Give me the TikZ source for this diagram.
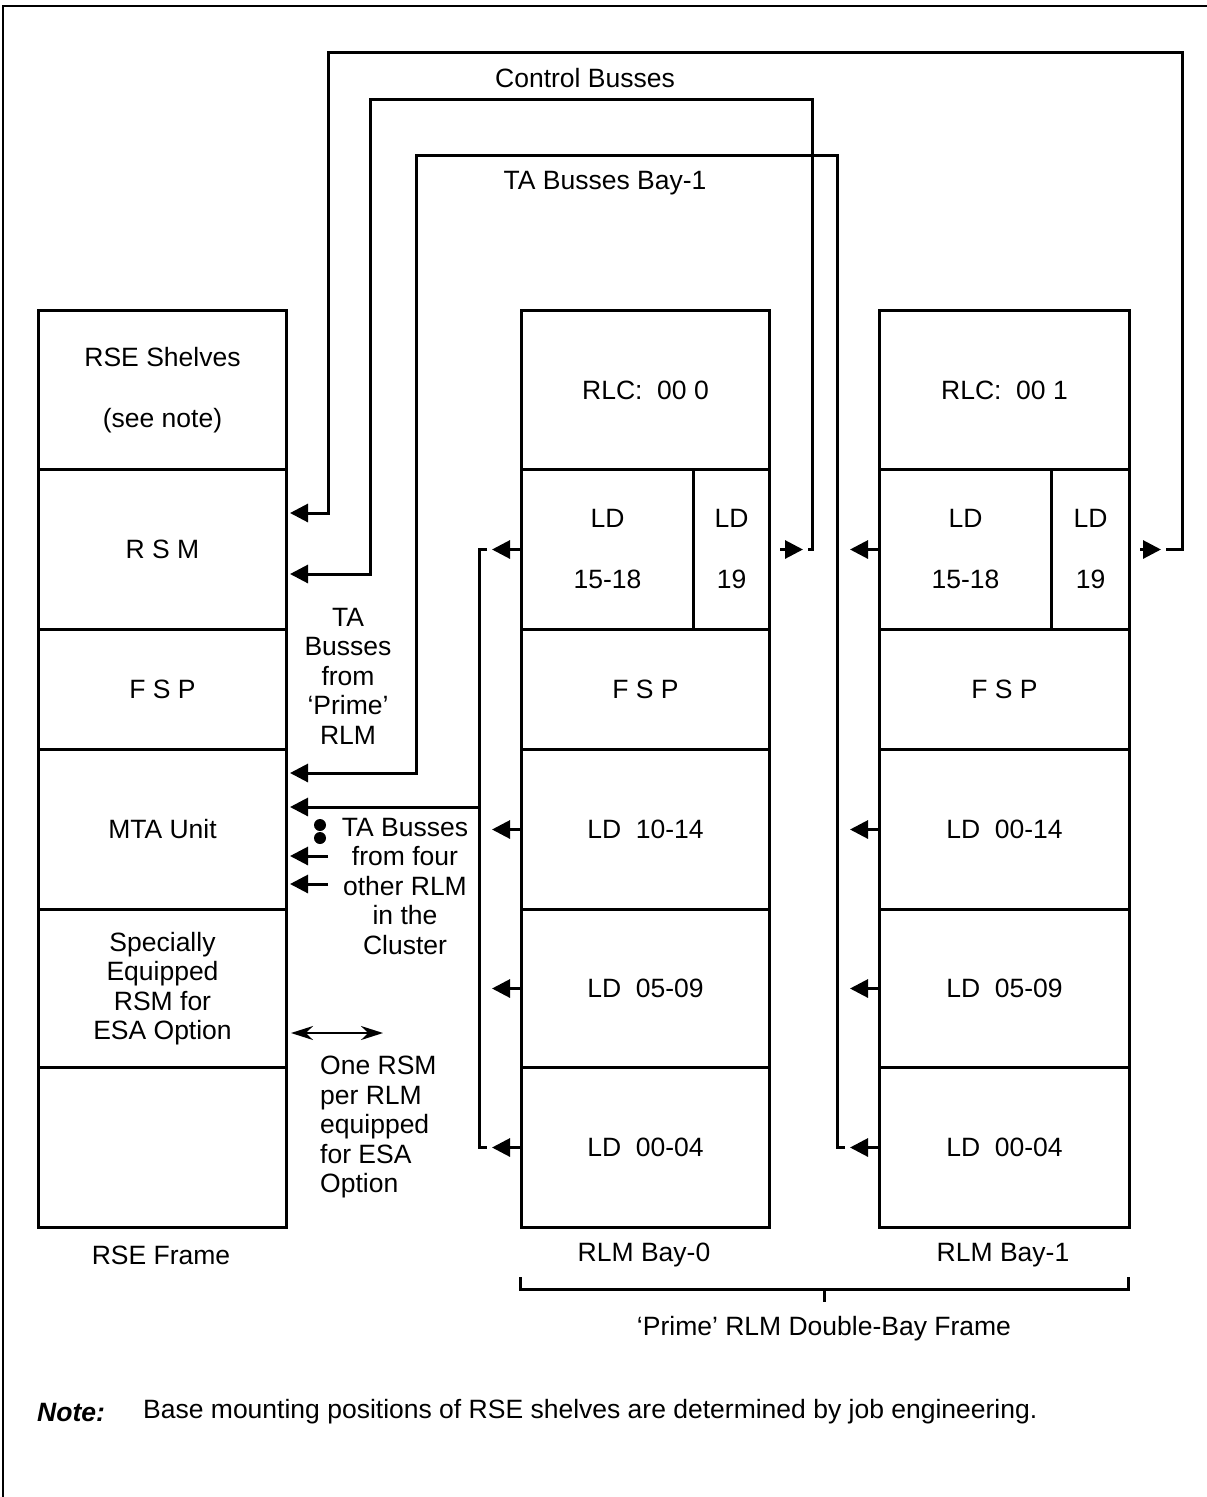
\documentclass[tikz,border=0pt]{standalone}
\usepackage{fontspec}
\setmainfont{Liberation Sans}
\usetikzlibrary{arrows.meta}
\newcommand\figfont{\fontsize{26.5}{29.5}\selectfont}
\begin{document}
\begin{tikzpicture}[x=1pt,y=-1pt,
  every node/.style={font=\figfont},
  cell/.style={draw, line width=3pt, inner sep=0pt, anchor=north west, align=center},
  txt/.style={inner sep=0pt, align=center},
  bus/.style={line width=3pt},
  arr/.style={line width=3pt, -{Triangle[length=18pt,width=18pt]}},
  dbl/.style={line width=2pt, {Stealth[length=22pt,width=14pt]}-{Stealth[length=22pt,width=14pt]}}]
\useasboundingbox (0,0) rectangle (1207,1497);
\draw[line width=1.5pt] (3,1497) -- (3,6) -- (1207,6);

% RSE frame
\node[cell, minimum width=248pt, minimum height=159pt] (rseShelf) at (37,309) {RSE Shelves\\[31.5pt](see note)};
\node[cell, minimum width=248pt, minimum height=160pt] (rsm) at (37,468) {R S M};
\node[cell, minimum width=248pt, minimum height=120pt] (rsefsp) at (37,628) {F S P};
\node[cell, minimum width=248pt, minimum height=160pt] (mta) at (37,748) {MTA Unit};
\node[cell, minimum width=248pt, minimum height=158pt] (esa) at (37,908) {Specially\\Equipped\\RSM for\\ESA Option};
\node[cell, minimum width=248pt, minimum height=160pt] (rseEmpty) at (37,1066) {};

% RLM Bay-0
\node[cell, minimum width=248pt, minimum height=159pt] (rlc0) at (520,309) {RLC:\ \ 00 0};
\node[cell, minimum width=172pt, minimum height=160pt] (ld0a) at (520,468) {LD\\[31.5pt]15-18};
\node[cell, minimum width=76pt, minimum height=160pt] (ld0b) at (692,468) {LD\\[31.5pt]19};
\node[cell, minimum width=248pt, minimum height=120pt] (fsp0) at (520,628) {F S P};
\node[cell, minimum width=248pt, minimum height=160pt] (ld0c) at (520,748) {LD\ \ 10-14};
\node[cell, minimum width=248pt, minimum height=158pt] (ld0d) at (520,908) {LD\ \ 05-09};
\node[cell, minimum width=248pt, minimum height=160pt] (ld0e) at (520,1066) {LD\ \ 00-04};

% RLM Bay-1
\node[cell, minimum width=250pt, minimum height=159pt] (rlc1) at (878,309) {RLC:\ \ 00 1};
\node[cell, minimum width=172pt, minimum height=160pt] (ld1a) at (878,468) {LD\\[31.5pt]15-18};
\node[cell, minimum width=78pt, minimum height=160pt] (ld1b) at (1050,468) {LD\\[31.5pt]19};
\node[cell, minimum width=250pt, minimum height=120pt] (fsp1) at (878,628) {F S P};
\node[cell, minimum width=250pt, minimum height=160pt] (ld1c) at (878,748) {LD\ \ 00-14};
\node[cell, minimum width=250pt, minimum height=158pt] (ld1d) at (878,908) {LD\ \ 05-09};
\node[cell, minimum width=250pt, minimum height=160pt] (ld1e) at (878,1066) {LD\ \ 00-04};

% bus coordinates
\coordinate (oR) at (1182,52);
\coordinate (oL) at (328,52);
\coordinate (rsmU) at (290,513);
\coordinate (cR) at (812,99);
\coordinate (cL) at (370,99);
\coordinate (rsmL) at (290,574);
\coordinate (tR) at (837,155);
\coordinate (tL) at (416,155);
\coordinate (mtaU) at (290,773);
\coordinate (bJ) at (479,807);
\coordinate (mtaL) at (290,807);
\coordinate (s1) at (328,856);
\coordinate (s1e) at (290,856);
\coordinate (s2) at (328,884);
\coordinate (s2e) at (290,884);
\coordinate (dA) at (291,1033);
\coordinate (dB) at (383,1033);

% outer bus (Bay-1 LD19 -> RSM)
\draw[arr] ([xshift=9pt]ld1b.east) -- ([xshift=30pt]ld1b.east);
\draw[arr] ([xshift=35pt]ld1b.east) -| (oR) -- (oL) |- (rsmU);
% control bus (Bay-0 LD19 -> RSM)
\draw[arr] ([xshift=9pt]ld0b.east) -- ([xshift=32pt]ld0b.east);
\draw[arr] ([xshift=37pt]ld0b.east) -| (cR) -- (cL) |- (rsmL);
% TA busses Bay-1
\foreach \n in {ld1a,ld1c,ld1d,ld1e}{\draw[arr] (\n.west) -- ([xshift=-28pt]\n.west);}
\draw[arr] ([xshift=-33pt]ld1e.west) -| (tR) -- (tL) |- (mtaU);
% TA busses Bay-0 (prime)
\foreach \n in {ld0a,ld0c,ld0d,ld0e}{\draw[arr] (\n.west) -- ([xshift=-28pt]\n.west);}
\draw[bus] ([xshift=-33pt]ld0a.west) -- ([xshift=-41pt]ld0a.west) -- ([xshift=-41pt]ld0e.west) -- ([xshift=-33pt]ld0e.west);
\draw[arr] (bJ) -- (mtaL);
% other RLM
\fill (320,825) circle (6pt);
\fill (320,838) circle (6pt);
\draw[arr] (s1) -- (s1e);
\draw[arr] (s2) -- (s2e);
% ESA
\draw[dbl] (dA) -- (dB);

% bracket
\draw[line width=3pt] (520,1277) |- (1128,1289) -- (1128,1277);
\draw[line width=3pt] (824,1289) -- (824,1302);

% labels
\node[txt] (lcb) at (585,78) {Control Busses};
\node[txt] (ltab) at (605,183) {TA Busses Bay-1};
\node[txt] (lprime) at (348,676) {TA\\Busses\\from\\‘Prime’\\RLM};
\node[txt] (lfour) at (405,886) {TA Busses\\from four\\other RLM\\in the\\Cluster};
\node[txt, align=left, anchor=west] (lone) at (320,1127) {One RSM\\per RLM\\equipped\\for ESA\\Option};
\node[txt] (lrse) at (161,1255) {RSE Frame};
\node[txt] (lb0) at (644,1255) {RLM Bay-0};
\node[txt] (lb1) at (1003,1255) {RLM Bay-1};
\node[txt] (ldbl) at (824,1329) {‘Prime’ RLM Double-Bay Frame};
\node[txt, anchor=west] (lnote) at (37,1412) {\bfseries\itshape Note:};
\node[txt, anchor=west] (lnotet) at (143,1412) {Base mounting positions of RSE shelves are determined by job engineering.};
\end{tikzpicture}
\end{document}
